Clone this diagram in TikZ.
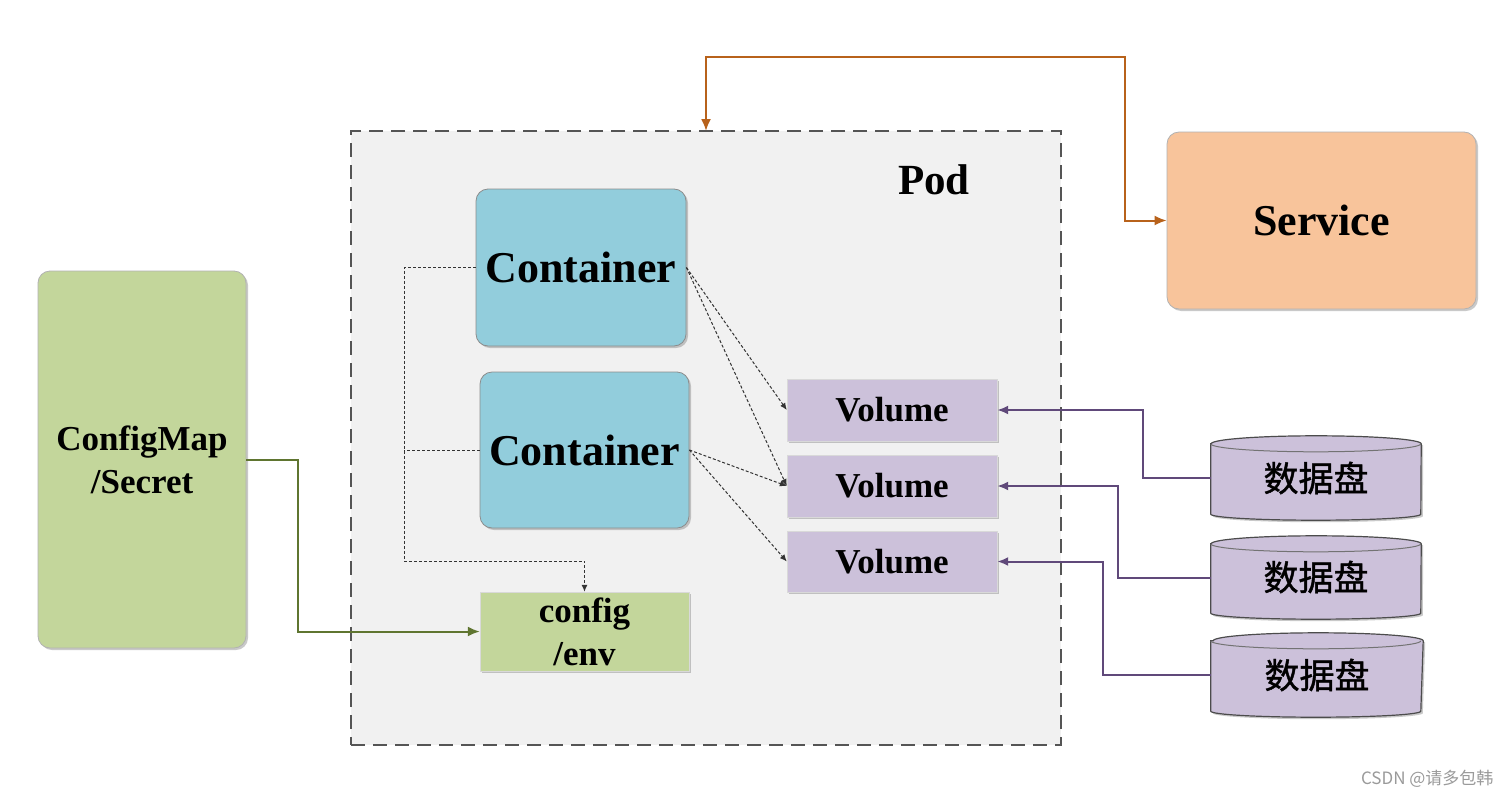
\documentclass[tikz,border=0pt]{standalone}
\usepackage{fontspec}
\setmainfont{Liberation Serif}
\newfontfamily\cjk{Noto Sans CJK SC}
\newfontfamily\cjkb[FakeBold=1.2]{Noto Sans CJK SC}
\usetikzlibrary{arrows.meta,shadows}
\definecolor{podfill}{HTML}{F1F1F1}
\definecolor{podline}{HTML}{555555}
\definecolor{contfill}{HTML}{92CDDC}
\definecolor{svcfill}{HTML}{F8C49B}
\definecolor{grfill}{HTML}{C3D69B}
\definecolor{volfill}{HTML}{CCC1DA}
\definecolor{orline}{HTML}{B8621B}
\definecolor{grline}{HTML}{5F7530}
\definecolor{puline}{HTML}{60497A}
\definecolor{dkline}{HTML}{333333}
\definecolor{wmark}{HTML}{9A9A9A}
\tikzset{
  shad/.style={drop shadow={shadow xshift=2pt, shadow yshift=-2pt, opacity=0.35, fill=black!60}},
  rbox/.style={shad, rounded corners=12pt, draw=black!45, line width=0.8pt, inner sep=0pt, align=center},
  sbox/.style={shad, draw=black!15, line width=0.4pt, inner sep=0pt, align=center},
  bigtxt/.style={font=\fontsize{44}{50}\selectfont\bfseries},
  midtxt/.style={font=\fontsize{35}{43}\selectfont\bfseries},
  orconn/.style={draw=orline, line width=2pt, {Latex[length=12pt,width=10pt]}-{Latex[length=12pt,width=10pt]}},
  grconn/.style={draw=grline, line width=2pt, -{Latex[length=12pt,width=10pt]}},
  puconn/.style={draw=puline, line width=2pt, -{Latex[length=11pt,width=9pt]}},
  dkconn/.style={draw=dkline, line width=1pt, densely dashed},
  dkarrow/.style={dkconn, -{Latex[length=7pt,width=6pt]}},
  diskshape/.style={fill=volfill, draw=black!70, line width=1.2pt},
  disktxt/.style={font=\cjkb\fontsize{35}{40}\selectfont},
}
\newcommand{\diskdraw}[1]{%
  \path[diskshape, shad] ([yshift=-8pt]#1.north west) -- ([yshift=6pt]#1.south west)
     arc[start angle=180, end angle=360, x radius=105pt, y radius=6pt]
     -- ([yshift=-8pt]#1.north east)
     arc[start angle=0, end angle=180, x radius=105pt, y radius=8pt] -- cycle;
  \draw[draw=black!55, line width=1pt] ([yshift=-8pt]#1.north west)
     arc[start angle=180, end angle=360, x radius=105pt, y radius=8pt];
}
\begin{document}
\begin{tikzpicture}[x=1pt, y=-1pt]
\useasboundingbox (0,0) rectangle (1511,798);
\fill[white] (0,0) rectangle (1511,798);

% Pod
\node[draw=podline, fill=podfill, line width=2pt, dash pattern=on 14pt off 8pt,
      minimum width=710pt, minimum height=614pt, inner sep=0pt] (pod) at (706,438) {};
\node[font=\fontsize{43}{50}\selectfont\bfseries] (podlbl) at (934,180) {Pod};

% Service
\node[rbox, fill=svcfill, draw=black!30, minimum width=309pt, minimum height=177pt, bigtxt] (svc) at (1321.5,220.5) {Service};

% ConfigMap / Secret
\node[rbox, fill=grfill, draw=black!30, minimum width=208pt, minimum height=377pt, midtxt] (cm) at (142,459.5) {ConfigMap\\/Secret};

% Containers
\node[rbox, fill=contfill, minimum width=210pt, minimum height=157pt, bigtxt] (c1) at (581,267.5) {Container};
\node[rbox, fill=contfill, minimum width=209pt, minimum height=156pt, bigtxt] (c2) at (584.5,450) {Container};

% config/env
\node[sbox, fill=grfill, minimum width=209pt, minimum height=79pt, midtxt] (env) at (584.5,631.5) {config\\/env};

% Volumes
\node[sbox, fill=volfill, minimum width=210pt, minimum height=62pt, midtxt] (v1) at (892,410) {Volume};
\node[sbox, fill=volfill, minimum width=210pt, minimum height=62pt, midtxt] (v2) at (892,486) {Volume};
\node[sbox, fill=volfill, minimum width=210pt, minimum height=61pt, midtxt] (v3) at (892,561.5) {Volume};

% Disks
\node[minimum width=210pt, minimum height=84pt, inner sep=0pt] (d1) at (1316,478) {};
\node[minimum width=210pt, minimum height=83pt, inner sep=0pt] (d2) at (1316,577.5) {};
\node[minimum width=212pt, minimum height=84pt, inner sep=0pt] (d3) at (1317,675) {};
\diskdraw{d1}
\diskdraw{d2}
\diskdraw{d3}
\node[disktxt] (d1t) at (1316,478) {数据盘};
\node[disktxt] (d2t) at (1316,577) {数据盘};
\node[disktxt] (d3t) at (1317,675) {数据盘};

% Orange connector Pod <-> Service
\coordinate (podtop) at (706,131);
\draw[orconn] (podtop) |- (1125,57) |- (svc.west);

% Green connector ConfigMap -> config/env
\draw[grconn] (cm.east) -- (298,459.5) |- (env.west);

% Purple connectors disks -> volumes
\draw[puconn] (d1.west) -- (1143,478) |- (v1.east);
\draw[puconn] (d2.west) -- (1118,577.5) |- (v2.east);
\draw[puconn] (d3.west) -- (1103,675) |- (v3.east);

% Dashed connectors containers -> config/env
\coordinate (jn) at (404,561);
\draw[dkarrow] (c1.west) -- (404,267.5) -- (jn) -| (env.north);
\draw[dkconn] (c2.west) -- (404,450);

% Dashed connectors containers -> volumes
\draw[dkarrow] (c1.east) -- (v1.west);
\draw[dkarrow] (c1.east) -- (v2.west);
\draw[dkarrow] (c2.east) -- (v2.west);
\draw[dkarrow] (c2.east) -- (v3.west);

% Watermark
\node[font=\cjk\fontsize{17}{20}\selectfont, text=wmark, anchor=east] (wm) at (1497,779) {CSDN @请多包韩};
\end{tikzpicture}
\end{document}
